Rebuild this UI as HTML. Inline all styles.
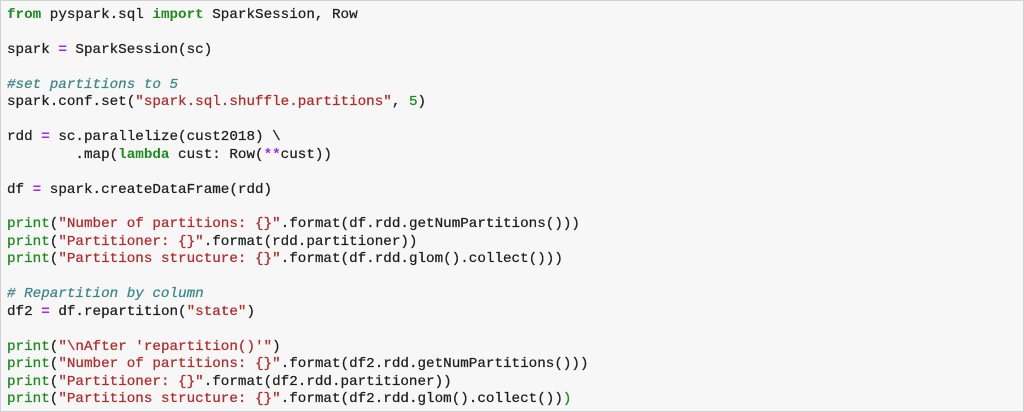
<!DOCTYPE html>
<html>
<head>
<meta charset="utf-8">
<style>
html,body{margin:0;padding:0;}
body{width:1024px;height:412px;overflow:hidden;background:#f7f7f7;}
.box{position:absolute;left:0;top:0;width:1022px;height:410px;border:1px solid #d2d2d2;background:#f7f7f7;}
pre{position:absolute;left:7px;top:7px;margin:0;font-family:"Liberation Mono",monospace;font-size:14.25px;line-height:17.45px;color:#1e1e1e;-webkit-text-stroke:0.25px currentColor;}
.k{color:#1d8a1d;font-weight:bold;-webkit-text-stroke:0;}
.b{color:#1d8a1d;}
.s{color:#b22a2a;}
.c{color:#3d8787;font-style:italic;}
.o{color:#a524f0;font-weight:bold;-webkit-text-stroke:0;}
.n{color:#1d8a1d;}
</style>
</head>
<body>
<div class="box"></div>
<pre><span class="k">from</span> pyspark.sql <span class="k">import</span> SparkSession, Row

spark <span class="o">=</span> SparkSession(sc)

<span class="c">#set partitions to 5</span>
spark.conf.set(<span class="s">"spark.sql.shuffle.partitions"</span>, <span class="n">5</span>)

rdd <span class="o">=</span> sc.parallelize(cust2018) \
        .map(<span class="k">lambda</span> cust: Row(<span class="o">**</span>cust))

df <span class="o">=</span> spark.createDataFrame(rdd)

<span class="b">print</span>(<span class="s">"Number of partitions: {}"</span>.format(df.rdd.getNumPartitions()))
<span class="b">print</span>(<span class="s">"Partitioner: {}"</span>.format(rdd.partitioner))
<span class="b">print</span>(<span class="s">"Partitions structure: {}"</span>.format(df.rdd.glom().collect()))

<span class="c"># Repartition by column</span>
df2 <span class="o">=</span> df.repartition(<span class="s">"state"</span>)

<span class="b">print</span>(<span class="s">"\nAfter 'repartition()'"</span>)
<span class="b">print</span>(<span class="s">"Number of partitions: {}"</span>.format(df2.rdd.getNumPartitions()))
<span class="b">print</span>(<span class="s">"Partitioner: {}"</span>.format(df2.rdd.partitioner))
<span class="b">print</span>(<span class="s">"Partitions structure: {}"</span>.format(df2.rdd.glom().collect())<span class="b">)</span></pre>
</body>
</html>
